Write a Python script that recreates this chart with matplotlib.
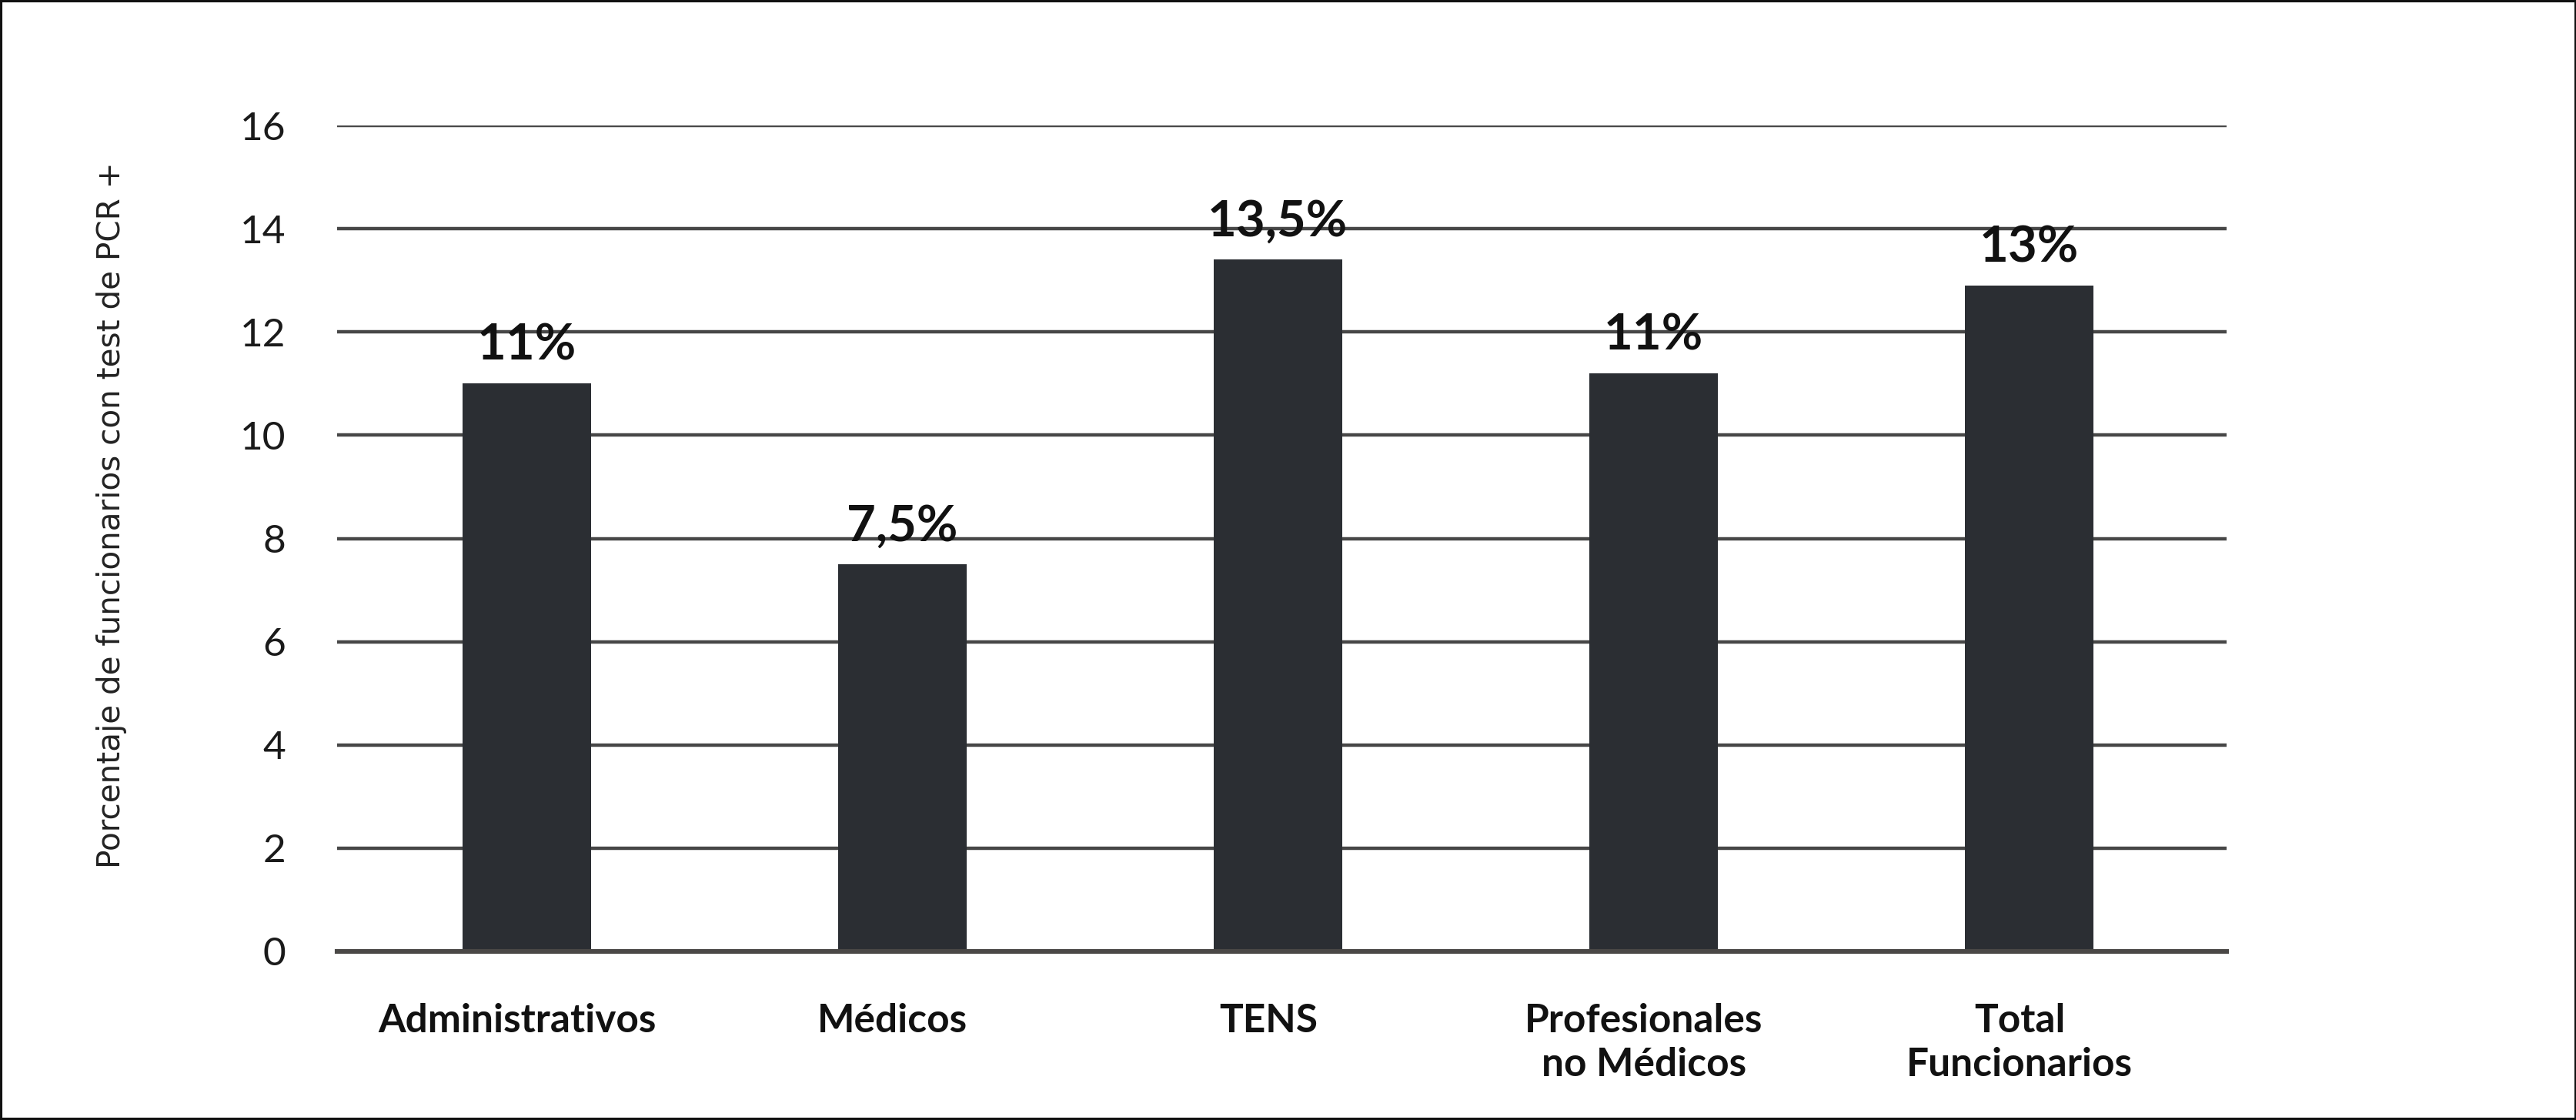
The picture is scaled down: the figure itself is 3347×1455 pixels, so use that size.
import matplotlib
matplotlib.use("Agg")
import matplotlib.pyplot as plt
from matplotlib.patches import Rectangle
from matplotlib.transforms import ScaledTranslation

categories = ["Administrativos", "Médicos", "TENS", "Profesionales\nno Médicos", "Total\nFuncionarios"]
values = [11.0, 7.5, 13.4, 11.2, 12.9]
value_labels = ["11%", "7,5%", "13,5%", "11%", "13%"]
yticks = [0, 2, 4, 6, 8, 10, 12, 14, 16]
ylabel = "Porcentaje de funcionarios con test de PCR +"

W, H, DPI = 3348, 1455, 200
fig = plt.figure(figsize=(W / DPI, H / DPI), dpi=DPI)
fig.patch.set_facecolor("white")
fig.patches.append(Rectangle((0, 0), 1, 1, transform=fig.transFigure, fill=False,
                             edgecolor="#111111", linewidth=2.2, zorder=10))

ax = fig.add_axes([438 / W, 1 - 1236 / H, (2893 - 438) / W, (1236 - 163) / H])
x = list(range(len(categories)))
ax.bar(x, values, width=0.342, color="#2b2e33", zorder=3)
ax.set_xlim(-0.504, 4.525)
ax.set_ylim(0, 16)
ax.set_yticks(yticks)
ax.set_yticklabels([str(t) for t in yticks], fontsize=18.5, family="Lato", fontweight="normal", color="#1a1a1a")
ax.tick_params(axis="y", length=0, pad=24)
ax.set_xticks(x)
ax.set_xticklabels(categories, fontsize=18.5, family="Lato", fontweight="bold", color="#111111",
                   linespacing=1.28)
ax.tick_params(axis="x", length=0, pad=24)
shift = ScaledTranslation(-4.5 / 72, 0, fig.dpi_scale_trans)
for lbl in ax.get_xticklabels():
    lbl.set_transform(lbl.get_transform() + shift)
for yv in yticks[1:]:
    ax.axhline(yv, color="#474747", linewidth=1.6, zorder=1)
for s in ["top", "right", "left"]:
    ax.spines[s].set_visible(False)
ax.spines["bottom"].set_color("#4a4846")
ax.spines["bottom"].set_linewidth(2.2)
ax.spines["bottom"].set_zorder(4)

for xi, v, lab in zip(x, values, value_labels):
    ax.annotate(lab, (xi, v), xytext=(0, 7), textcoords="offset points", ha="center", va="bottom",
                fontsize=23.5, family="Lato", fontweight="bold", color="#111111")

fig.text(145 / W, 1 - 669 / H, ylabel, rotation=90, ha="center", va="center",
         fontsize=14.6, family="DejaVu Sans", color="#222222")

fig.savefig("out.png", dpi=DPI, facecolor="white")
